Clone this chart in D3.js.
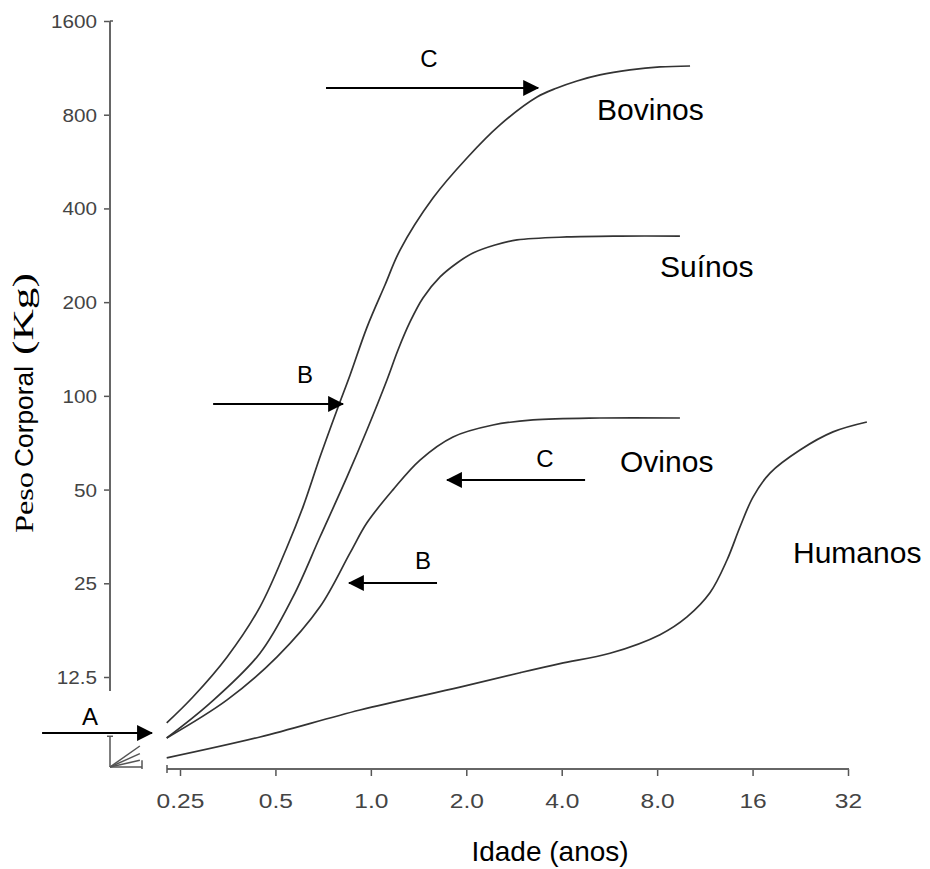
<!DOCTYPE html>
<html>
<head>
<meta charset="utf-8">
<script src="https://cdn.jsdelivr.net/npm/d3@7"></script>
<style>
  body { margin: 0; background: #fff; }
  svg { display: block; }
</style>
</head>
<body>
<svg id="chart" width="930" height="869"></svg>
<script>
// ---- axis ticks ----
const xTickValues = [0.25, 0.5, 1, 2, 4, 8, 16, 32];
const xTickLabels = ["0.25", "0.5", "1.0", "2.0", "4.0", "8.0", "16", "32"];
const yTickValues = [12.5, 25, 50, 100, 200, 400, 800, 1600];
const yTickLabels = ["12.5", "25", "50", "100", "200", "400", "800", "1600"];

// ---- growth curves: age (years) and body weight (kg) ----
const speciesNames = ["Bovinos", "Suínos", "Ovinos", "Humanos"];

const bovinosAge = [0.227, 0.275, 0.352, 0.447, 0.544, 0.611, 0.691, 0.782, 0.860, 0.972, 1.108, 1.236, 1.570, 2.010, 2.555, 3.343, 3.865, 4.47, 5.28, 6.57, 8.17, 10.16];
const bovinosKg  = [8.9, 10.8, 14.5, 21.0, 32.7, 44.0, 63.6, 90.1, 116.7, 166, 227, 294, 432, 581, 742, 912, 975, 1027, 1074, 1114, 1139, 1147];

const suinosAge = [0.227, 0.311, 0.447, 0.568, 0.691, 0.841, 0.972, 1.124, 1.218, 1.329, 1.460, 1.653, 1.870, 2.100, 2.464, 2.891, 4.157, 6.11, 9.44];
const suinosKg  = [7.96, 10.3, 14.9, 22.6, 35.2, 54.9, 77.7, 112.5, 140.4, 172.7, 206.3, 241.0, 267.2, 287.7, 305.3, 316.8, 323.9, 326, 326];

const ovinosAge = [0.227, 0.352, 0.506, 0.691, 0.860, 0.972, 1.174, 1.429, 1.816, 2.428, 3.247, 5.28, 9.44];
const ovinosKg  = [7.96, 10.55, 14.5, 21.0, 31.3, 39.1, 49.9, 62.2, 73.8, 80.6, 83.7, 84.9, 84.9];

const humanosAge = [0.227, 0.447, 0.924, 1.911, 2.955, 3.95, 5.68, 8.17, 9.94, 11.74, 13.29, 14.60, 16.05, 18.16, 22.58, 28.7, 36.7];
const humanosKg  = [6.87, 8.02, 9.79, 11.6, 12.9, 13.8, 14.9, 17.1, 19.5, 23.3, 29.7, 37.9, 47.3, 56.5, 67.0, 76.6, 82.4];

// name placement (age, kg at text baseline)
const nameAge = [5.17, 8.17, 6.11, 21.46];
const nameKg  = [770, 241, 56.9, 29.06];

// ---- arrows marking growth phases ----
const arrowLabels  = ["A", "C", "B", "C", "B"];
const arrowFromAge = [0.0918, 0.722, 0.318, 4.74, 1.617];
const arrowToAge   = [0.204, 3.37, 0.817, 1.739, 0.853];
const arrowKg      = [8.26, 975, 94.2, 53.7, 25.05];
const arrowTextAge = [0.130, 1.526, 0.620, 3.54, 1.460];
const arrowTextKg  = [8.76, 1139, 110, 59.1, 27.8];

// ---- broken-axis inset near the origin (kg reached at the inset edge) ----
const insetRayAge = [0.028, 0.028, 0.028];
const insetRayKg  = [4.1, 2.6, 1.3];

const series = [
  { age: bovinosAge, kg: bovinosKg },
  { age: suinosAge, kg: suinosKg },
  { age: ovinosAge, kg: ovinosKg },
  { age: humanosAge, kg: humanosKg }
].map((s, i) => ({
  name: speciesNames[i],
  points: s.age.map((a, j) => ({ age: a, kg: s.kg[j] })),
  labelAge: nameAge[i],
  labelKg: nameKg[i]
}));

const arrows = arrowLabels.map((t, i) => ({
  label: t, from: arrowFromAge[i], to: arrowToAge[i], kg: arrowKg[i],
  tAge: arrowTextAge[i], tKg: arrowTextKg[i]
}));

// ---- layout ----
const svg = d3.select("#chart");
const sans = "'Liberation Sans', Arial, Helvetica, sans-serif";
const serif = "'Liberation Serif', 'Times New Roman', Times, serif";

const x = d3.scaleLog().base(2).domain([0.25, 32]).range([180, 848]);
const y = d3.scaleLog().base(2).domain([12.5, 1600]).range([677, 21]);
const xAxisY = 769;
const yAxisX = 110;
const axisColor = "#666";

// ---- x axis ----
const gx = svg.append("g")
  .attr("transform", `translate(0,${xAxisY})`)
  .call(d3.axisBottom(x)
    .tickValues(xTickValues)
    .tickFormat((d, i) => xTickLabels[i])
    .tickSize(7)
    .tickSizeOuter(0));
gx.select(".domain").remove();
gx.selectAll(".tick line").attr("stroke", "#555").attr("stroke-width", 1.5);
gx.selectAll(".tick text")
  .attr("y", 39).attr("dy", 0)
  .attr("font-family", sans)
  .attr("font-size", 21)
  .attr("fill", "#444")
  .attr("transform", "scale(1.17,1)");
gx.append("line")
  .attr("x1", 167).attr("x2", x(32) + 1)
  .attr("y1", 0).attr("y2", 0)
  .attr("stroke", axisColor).attr("stroke-width", 2);
gx.append("line")
  .attr("x1", 167).attr("x2", 167)
  .attr("y1", -4).attr("y2", 4)
  .attr("stroke", "#555").attr("stroke-width", 1.5);

// ---- y axis ----
const gy = svg.append("g")
  .attr("transform", `translate(${yAxisX},0)`)
  .call(d3.axisLeft(y)
    .tickValues(yTickValues)
    .tickFormat((d, i) => yTickLabels[i])
    .tickSize(6)
    .tickSizeOuter(0));
gy.select(".domain").remove();
gy.selectAll(".tick line").attr("stroke", "#555").attr("stroke-width", 1.5);
gy.selectAll(".tick text")
  .attr("x", -13 / 1.15).attr("dy", "0.36em")
  .attr("font-family", sans)
  .attr("font-size", 18)
  .attr("fill", "#444")
  .attr("transform", "scale(1.15,1)");
gy.append("line")
  .attr("x1", 0).attr("x2", 0)
  .attr("y1", y(1600)).attr("y2", 691)
  .attr("stroke", axisColor).attr("stroke-width", 2);
gy.append("line")
  .attr("x1", 0).attr("x2", 3)
  .attr("y1", y(1600)).attr("y2", y(1600))
  .attr("stroke", "#555").attr("stroke-width", 1.5);

// ---- broken-axis inset near the origin ----
const ix = d3.scaleLinear().domain([0, 0.03]).range([110, 142]);
const iy = d3.scaleLinear().domain([0, 6.25]).range([767, 735]);
const inset = svg.append("g").attr("stroke", "#555").attr("stroke-width", 1.5).attr("fill", "none");
inset.append("line").attr("x1", ix(0)).attr("x2", ix(0)).attr("y1", iy(0)).attr("y2", iy(6.0));
inset.append("line").attr("x1", ix(0) - 3).attr("x2", ix(0) + 3).attr("y1", iy(6.0)).attr("y2", iy(6.0));
inset.append("line").attr("x1", ix(0)).attr("x2", ix(0.03)).attr("y1", iy(0)).attr("y2", iy(0));
inset.append("line").attr("x1", ix(0.03)).attr("x2", ix(0.03)).attr("y1", iy(0) + 2).attr("y2", iy(1.3));
insetRayAge.forEach((a, i) => {
  inset.append("line")
    .attr("x1", ix(0)).attr("y1", iy(0))
    .attr("x2", ix(a)).attr("y2", iy(insetRayKg[i]));
});

// ---- growth curves ----
const line = d3.line()
  .x(d => x(d.age))
  .y(d => y(d.kg))
  .curve(d3.curveCatmullRom.alpha(0.5));

svg.append("g")
  .selectAll("path")
  .data(series)
  .join("path")
  .attr("d", d => line(d.points))
  .attr("fill", "none")
  .attr("stroke", "#333")
  .attr("stroke-width", 1.7)
  .attr("stroke-linejoin", "round");

svg.append("g")
  .selectAll("text")
  .data(series)
  .join("text")
  .attr("x", d => x(d.labelAge))
  .attr("y", d => y(d.labelKg))
  .attr("font-family", sans)
  .attr("font-size", 30)
  .attr("fill", "#000")
  .text(d => d.name);

// ---- arrows ----
svg.append("defs").append("marker")
  .attr("id", "head")
  .attr("markerUnits", "userSpaceOnUse")
  .attr("markerWidth", 16).attr("markerHeight", 16)
  .attr("viewBox", "0 0 15 15")
  .attr("refX", 14).attr("refY", 7.5)
  .attr("orient", "auto")
  .append("path")
  .attr("d", "M0,0 L15,7.5 L0,15 Z")
  .attr("fill", "#000");

const ga = svg.append("g");
ga.selectAll("line")
  .data(arrows)
  .join("line")
  .attr("x1", d => x(d.from))
  .attr("x2", d => x(d.to))
  .attr("y1", d => y(d.kg))
  .attr("y2", d => y(d.kg))
  .attr("stroke", "#000")
  .attr("stroke-width", 2)
  .attr("marker-end", "url(#head)");
ga.selectAll("text")
  .data(arrows)
  .join("text")
  .attr("x", d => x(d.tAge))
  .attr("y", d => y(d.tKg))
  .attr("text-anchor", "middle")
  .attr("font-family", sans)
  .attr("font-size", 24)
  .attr("fill", "#000")
  .text(d => d.label);

// ---- axis titles ----
svg.append("text")
  .attr("x", 550).attr("y", 861)
  .attr("text-anchor", "middle")
  .attr("font-family", sans)
  .attr("font-size", 28)
  .attr("fill", "#000")
  .text("Idade (anos)");

const yTitle = [
  { t: "Peso", start: 533, len: 61, font: serif, size: 26 },
  { t: "Corporal", start: 467, len: 101, font: sans, size: 25 },
  { t: "(Kg)", start: 355, len: 82, font: serif, size: 30 }
];
svg.append("g")
  .selectAll("text")
  .data(yTitle)
  .join("text")
  .attr("transform", d => `translate(33,${d.start}) rotate(-90)`)
  .attr("font-family", d => d.font)
  .attr("font-size", d => d.size)
  .attr("textLength", d => d.len)
  .attr("lengthAdjust", "spacingAndGlyphs")
  .attr("fill", "#000")
  .text(d => d.t);
</script>
</body>
</html>
